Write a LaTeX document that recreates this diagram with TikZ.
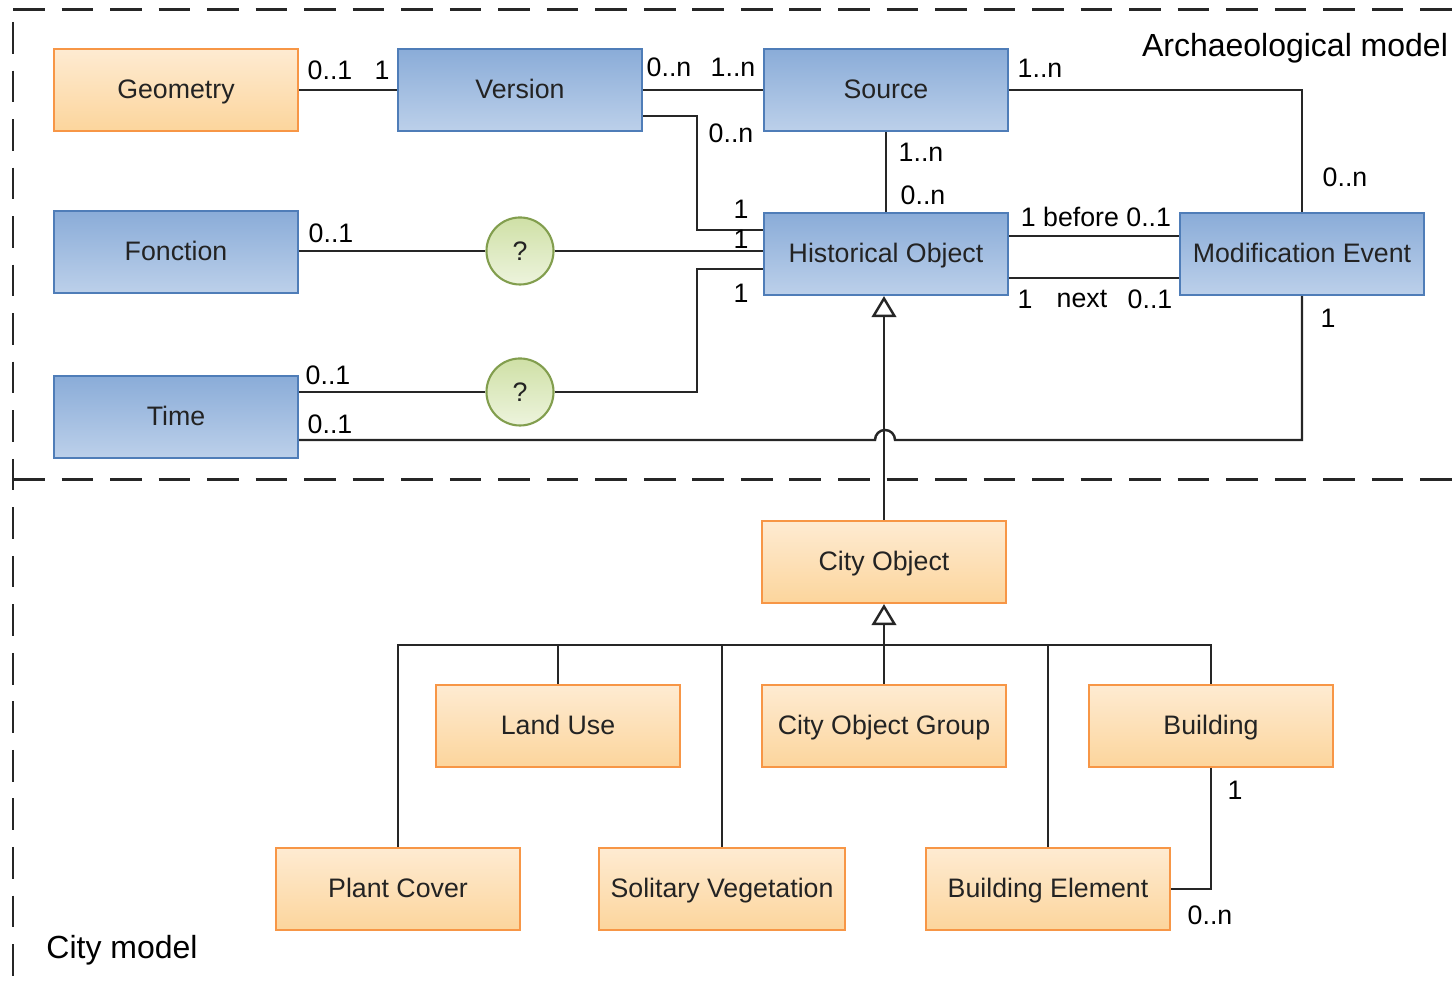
\documentclass[tikz,border=0pt]{standalone}
\usepackage{fontspec}
\setmainfont{Liberation Sans}
\usetikzlibrary{arrows.meta}
\definecolor{bluetop}{HTML}{8AACD8}
\definecolor{bluebot}{HTML}{BCD0EA}
\definecolor{blueline}{HTML}{4F7DB8}
\definecolor{orangetop}{HTML}{FEEBD2}
\definecolor{orangebot}{HTML}{FCD59C}
\definecolor{orangeline}{HTML}{F79646}
\definecolor{greentop}{HTML}{CFE0A6}
\definecolor{greenbot}{HTML}{EDF4DD}
\definecolor{greenline}{HTML}{829E4E}
\definecolor{textgray}{HTML}{232323}

\begin{document}
\begin{tikzpicture}[x=0.01cm,y=-0.01cm,font=\fontsize{7.6}{9}\selectfont,
  bluebox/.style={rectangle,draw=blueline,line width=0.6pt,top color=bluetop,bottom color=bluebot,minimum width=2.44cm,minimum height=0.82cm,text height=1.6ex,text depth=0.7ex,text=textgray},
  orangebox/.style={rectangle,draw=orangeline,line width=0.6pt,top color=orangetop,bottom color=orangebot,minimum width=2.44cm,minimum height=0.82cm,text height=1.6ex,text depth=0.7ex,text=textgray},
  query/.style={circle,draw=greenline,line width=0.6pt,top color=greentop,bottom color=greenbot,minimum size=0.67cm,inner sep=0pt,text=textgray},
  link/.style={line width=0.7pt,draw=black!85},
  inherit/.style={link,-{Triangle[open,length=6pt,width=7pt]}},
  card/.style={inner sep=0pt,text=black},
  frame/.style={line width=0.85pt,draw=black!85,dash pattern=on 9pt off 4.8pt},
  title/.style={inner sep=0pt,text=black,font=\fontsize{9.1}{11}\selectfont}]
\useasboundingbox (0,0) rectangle (1453,983);

% zones
\draw[frame] (13,10) -- (1453,10);
\draw[frame] (13,22) -- (13,983);
\draw[frame] (13,480) -- (1453,480);
\path (1295,48) node[title] (arch) {Archaeological model};
\path (122,950) node[title] (city) {City model};

% archaeological classes
\path (176,90) node[orangebox] (geom) {Geometry};
\path (520,90) node[bluebox] (vers) {Version};
\path (886,90) node[bluebox] (src) {Source};
\path (176,252) node[bluebox] (fonc) {Fonction};
\path (886,254) node[bluebox] (hist) {Historical Object};
\path (1302,254) node[bluebox] (modif) {Modification Event};
\path (176,417) node[bluebox] (time) {Time};
\path (520,251) node[query] (q1) {?};
\path (520,392) node[query] (q2) {?};

\draw[link] (geom) -- (vers);
\path (330,70) node[card] (geomvers) {0..1};
\path (382,70) node[card] (versgeom) {1};
\draw[link] (vers) -- (src);
\path (669,67) node[card] (verssrc) {0..n};
\path (733,67) node[card] (srcvers) {1..n};
\draw[link] (vers.east |- 0,116) -| (697,230) -- (hist.west |- 0,230);
\path (731,133) node[card] (histvers) {0..n};
\path (741,209) node[card] (vershist) {1};
\draw[link] (fonc.east |- q1) -- (q1);
\draw[link] (q1) -- (q1 -| hist.west);
\path (331,233) node[card] (foncq) {0..1};
\path (741,239) node[card] (qfonc) {1};
\draw[link] (time.east |- 0,392) -- (q2);
\draw[link] (q2) -| (697,269) -- (hist.west |- 0,269);
\path (328,375) node[card] (timeq) {0..1};
\path (741,293) node[card] (qtime) {1};
\draw[link] (time.east |- 0,440) -- (875,440)
  arc[start angle=180,end angle=0,radius=0.1cm] -- (modif.south |- 0,440) -- (modif.south);
\path (330,424) node[card] (timemodif) {0..1};
\path (1328,318) node[card] (modiftime) {1};
\draw[link] (src) -- (hist);
\path (921,152) node[card] (srchist) {1..n};
\path (923,195) node[card] (histsrc) {0..n};
\draw[link] (src.east) -| (modif.north);
\path (1040,68) node[card] (srcmodif) {1..n};
\path (1345,177) node[card] (modifsrc) {0..n};
\draw[link] (hist.east |- 0,236) -- (modif.west |- 0,236);
\path (1096,217) node[card] (before) {1 before 0..1};
\draw[link] (hist.east |- 0,278) -- (modif.west |- 0,278);
\path (1025,299) node[card] (nexta) {1};
\path (1082,299) node[card] (next) {next};
\path (1150,299) node[card] (nextb) {0..1};

% city classes
\path (884,562) node[orangebox] (cobj) {City Object};
\path (558,726) node[orangebox] (land) {Land Use};
\path (884,726) node[orangebox] (cgrp) {City Object Group};
\path (1211,726) node[orangebox] (bldg) {Building};
\path (398,889) node[orangebox] (plant) {Plant Cover};
\path (722,889) node[orangebox] (solit) {Solitary Vegetation};
\path (1048,889) node[orangebox] (belem) {Building Element};

\draw[inherit] (cobj.north) -- (cobj.north |- hist.south);
\coordinate (bus) at (884,645);
\draw[inherit] (bus) -- (cobj.south);
\draw[link] (plant.north) |- (bldg.north |- bus) -- (bldg.north);
\draw[link] (land.north) -- (land.north |- bus);
\draw[link] (solit.north) -- (solit.north |- bus);
\draw[link] (cgrp.north) -- (cgrp.north |- bus);
\draw[link] (belem.north) -- (belem.north |- bus);
\draw[link] (bldg.south) |- (belem.east);
\path (1235,790) node[card] (bldgbelem) {1};
\path (1210,915) node[card] (belembldg) {0..n};

\end{tikzpicture}
\end{document}
